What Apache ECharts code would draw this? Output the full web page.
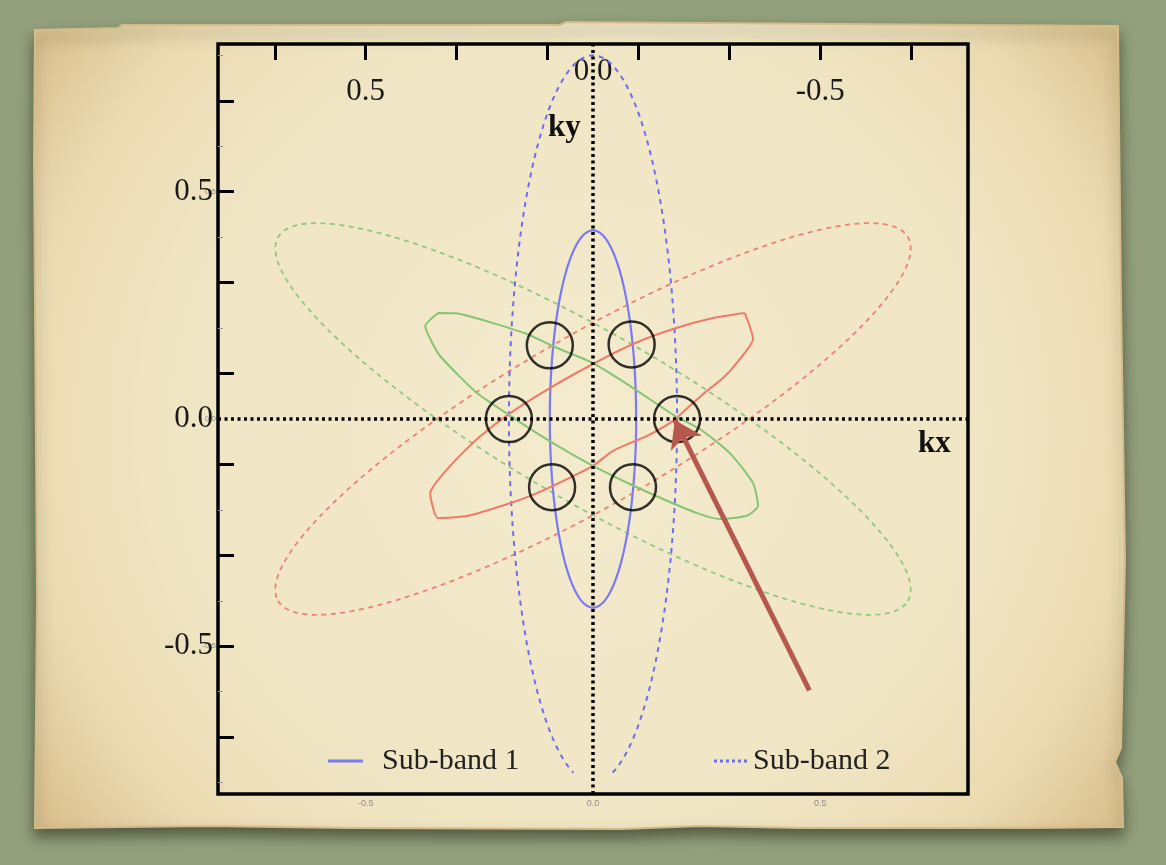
<!DOCTYPE html>
<html>
<head>
<meta charset="utf-8">
<title>Sub-band Fermi surfaces</title>
<script src="https://cdn.jsdelivr.net/npm/echarts@6/dist/echarts.min.js"></script>
<style>
  html, body { margin: 0; padding: 0; background: #93a07c; }
  #chart { width: 1166px; height: 865px; }
</style>
</head>
<body>
<div id="chart"></div>
<script>
// axis labels / ticks
var axisLabelsBig = [0.5, 0, -0.5];
var axisLabelsSmall = [-0.5, 0, 0.5];
var majorTicks = [-0.7, -0.5, -0.3, -0.1, 0.1, 0.3, 0.5, 0.7];
var minorTicks = [-0.8, -0.6, -0.4, -0.2, 0.2, 0.4, 0.6, 0.8];

// ellipses: [cx, cy, half length along angle, half width, angle (deg), cut below y]
var subBand1 = [0, 0, 0.415, 0.095, 90, -9];
var subBand2 = [0, 0, 0.80, 0.185, 90, -0.78];
var redDashed = [0, 0, 0.80, 0.185, 30, -9];
var greenDashed = [0, 0, 0.80, 0.185, 150, -9];

// hand drawn loops
var redSolid = [
  [0.334, 0.233], [0.352, 0.176], [0.316, 0.123], [0.286, 0.090], [0.251, 0.062],
  [0.220, 0.035], [0.176, -0.004], [0.119, -0.037], [0.044, -0.070], [0.0, -0.103],
  [-0.088, -0.147], [-0.138, -0.169], [-0.182, -0.185], [-0.275, -0.213], [-0.341, -0.218],
  [-0.358, -0.163], [-0.314, -0.103], [-0.255, -0.044], [-0.182, 0.013], [-0.095, 0.068],
  [0.0, 0.121], [0.088, 0.165], [0.176, 0.198], [0.264, 0.222], [0.334, 0.233]
];
var greenSolid = [
  [-0.341, 0.233], [-0.292, 0.231], [-0.220, 0.211], [-0.145, 0.187], [-0.088, 0.160],
  [0.0, 0.123], [0.081, 0.073], [0.180, 0.007], [0.235, -0.022], [0.301, -0.075],
  [0.352, -0.141], [0.363, -0.191], [0.338, -0.213], [0.279, -0.220], [0.229, -0.207],
  [0.154, -0.176], [0.081, -0.143], [0.0, -0.103], [-0.088, -0.053], [-0.182, 0.007],
  [-0.255, 0.057], [-0.336, 0.138], [-0.358, 0.176], [-0.369, 0.204], [-0.341, 0.233]
];

// Dirac point circles
var circles = [
  [-0.185, 0], [0.185, 0],
  [-0.095, 0.162], [0.085, 0.164],
  [-0.09, -0.150], [0.088, -0.150]
];

// arrow: tail -> head
var arrow = [[0.476, -0.597], [0.180, -0.002]];

var serif = "'Liberation Serif', 'DejaVu Serif', serif";

function ellipseRenderer(width, dash) {
  return function (params, api) {
    var cx = api.value(0), cy = api.value(1), a = api.value(2), b = api.value(3);
    var ang = api.value(4) * Math.PI / 180, cut = api.value(5);
    var runs = [], pts = [];
    for (var i = 0; i <= 240; i++) {
      var t = Math.PI + i / 240 * 2 * Math.PI;
      var x = cx + a * Math.cos(t) * Math.cos(ang) - b * Math.sin(t) * Math.sin(ang);
      var y = cy + a * Math.cos(t) * Math.sin(ang) + b * Math.sin(t) * Math.cos(ang);
      if (y < cut) {
        if (pts.length) { runs.push(pts); pts = []; }
        continue;
      }
      pts.push(api.coord([x, y]));
    }
    if (pts.length) runs.push(pts);
    return {
      type: 'group',
      children: runs.map(function (r) {
        return {
          type: 'polyline',
          shape: { points: r },
          style: { stroke: api.visual('color'), fill: null, lineWidth: width, lineDash: dash }
        };
      })
    };
  };
}

var chart = echarts.init(document.getElementById('chart'));

var option = {
  animation: false,
  backgroundColor: '#93a07c',
  graphic: [
    {
      type: 'polygon',
      z: -10,
      shape: {
        points: [
          [35, 30], [118, 28], [122, 25], [560, 25], [566, 22], [1118, 26],
          [1121, 300], [1125, 560], [1121, 748], [1115, 762], [1122, 778], [1123, 827],
          [1030, 828], [800, 828], [700, 826], [622, 829], [350, 828], [210, 826], [35, 828],
          [37, 600], [34, 160]
        ]
      },
      style: {
        fill: {
          type: 'radial', x: 0.5, y: 0.5, r: 0.86,
          colorStops: [
            { offset: 0, color: '#f4ebce' },
            { offset: 0.6, color: '#f0e5c3' },
            { offset: 0.8, color: '#eadab1' },
            { offset: 1, color: '#d5b984' }
          ]
        },
        stroke: '#d6bb86',
        lineWidth: 2,
        shadowBlur: 14,
        shadowOffsetY: 8,
        shadowColor: 'rgba(30, 35, 20, 0.55)'
      }
    },
    {
      type: 'text', left: 548, top: 112, z: 10,
      style: { text: 'ky', font: "bold 31px 'Liberation Serif', serif", fill: '#111' }
    },
    {
      type: 'text', left: 918, top: 428, z: 10,
      style: { text: 'kx', font: "bold 31px 'Liberation Serif', serif", fill: '#111' }
    }
  ],
  grid: {
    left: 218, top: 44, width: 750, height: 750,
    show: true, borderColor: '#000', borderWidth: 3.5,
    backgroundColor: 'transparent', containLabel: false
  },
  legend: [
    {
      left: 323, top: 741, itemWidth: 35, itemHeight: 3, itemGap: 10,
      data: [{ name: 'Sub-band 1', icon: 'rect' }],
      textStyle: { fontFamily: serif, fontSize: 30, color: '#222', padding: [0, 0, 0, 14] }
    },
    {
      left: 709, top: 741, itemWidth: 35, itemHeight: 3, itemGap: 10,
      data: [{
        name: 'Sub-band 2',
        icon: 'path://M0,0h3v3h-3zM6,0h3v3h-3zM12,0h3v3h-3zM18,0h3v3h-3zM24,0h3v3h-3zM30,0h3v3h-3z'
      }],
      textStyle: { fontFamily: serif, fontSize: 30, color: '#222' }
    }
  ],
  xAxis: [
    {
      type: 'value', position: 'bottom', min: -0.825, max: 0.825,
      axisLine: { show: false, onZero: false }, splitLine: { show: false },
      axisTick: { show: false },
      axisLabel: {
        customValues: axisLabelsSmall, margin: 5,
        fontSize: 9, color: '#8c8c8c', fontFamily: 'Liberation Sans',
        formatter: function (v) { return v.toFixed(1); }
      }
    },
    {
      type: 'value', position: 'top', inverse: true, min: -0.825, max: 0.825,
      axisLine: { show: false, onZero: false }, splitLine: { show: false },
      axisTick: {
        show: true, inside: true, length: 16, customValues: majorTicks,
        lineStyle: { color: '#000', width: 3 }
      },
      axisLabel: {
        inside: true, margin: 12, customValues: axisLabelsBig,
        formatter: function (v) {
          return v === 0 ? '{z|0.0}' : '{n|' + v.toFixed(1) + '}';
        },
        rich: {
          z: { fontFamily: serif, fontSize: 31, color: '#1a1a1a' },
          n: { fontFamily: serif, fontSize: 31, color: '#1a1a1a', padding: [20, 0, 0, 0] }
        }
      }
    }
  ],
  yAxis: [
    {
      type: 'value', position: 'left', min: -0.825, max: 0.825,
      axisLine: { show: false, onZero: false }, splitLine: { show: false },
      axisTick: {
        show: true, inside: true, length: 5, customValues: minorTicks,
        lineStyle: { color: '#9a9a9a', width: 1 }
      },
      axisLabel: {
        customValues: axisLabelsSmall, margin: 2,
        fontSize: 8, color: '#8c8c8c', fontFamily: 'Liberation Sans',
        formatter: function (v) { return v.toFixed(1); }
      }
    },
    {
      type: 'value', position: 'left', min: -0.825, max: 0.825,
      axisLine: { show: false, onZero: false }, splitLine: { show: false },
      axisTick: {
        show: true, inside: true, length: 16, customValues: majorTicks,
        lineStyle: { color: '#000', width: 3 }
      },
      axisLabel: {
        customValues: axisLabelsBig, margin: 5,
        fontFamily: serif, fontSize: 31, color: '#1a1a1a',
        formatter: function (v) { return v.toFixed(1); }
      }
    }
  ],
  series: [
    {
      name: 'axes', type: 'line', data: [], z: 3,
      markLine: {
        silent: true, symbol: 'none', label: { show: false },
        lineStyle: { color: '#000', width: 3.5, type: [3, 3.5] },
        data: [{ xAxis: 0 }, { yAxis: 0 }]
      }
    },
    {
      name: 'red dashed', type: 'custom', z: 2,
      itemStyle: { color: '#f0806f' },
      renderItem: ellipseRenderer(1.8, [5, 4.5]),
      encode: { x: 0, y: 1 },
      data: [redDashed]
    },
    {
      name: 'green dashed', type: 'custom', z: 2,
      itemStyle: { color: '#8fc97d' },
      renderItem: ellipseRenderer(1.8, [5, 4.5]),
      encode: { x: 0, y: 1 },
      data: [greenDashed]
    },
    {
      name: 'Sub-band 2', type: 'custom', z: 2,
      itemStyle: { color: '#6d6df2' },
      renderItem: ellipseRenderer(2, [5, 5]),
      encode: { x: 0, y: 1 },
      data: [subBand2]
    },
    {
      name: 'red solid', type: 'line', z: 2,
      showSymbol: false, smooth: 0.2,
      lineStyle: { color: '#f07a6a', width: 2 },
      itemStyle: { color: '#f07a6a' },
      data: redSolid
    },
    {
      name: 'green solid', type: 'line', z: 2,
      showSymbol: false, smooth: 0.2,
      lineStyle: { color: '#86c473', width: 2 },
      itemStyle: { color: '#86c473' },
      data: greenSolid
    },
    {
      name: 'Sub-band 1', type: 'custom', z: 2,
      itemStyle: { color: '#7a7af2' },
      renderItem: ellipseRenderer(2.2, null),
      encode: { x: 0, y: 1 },
      data: [subBand1]
    },
    {
      name: 'circles', type: 'scatter', z: 4,
      symbol: 'circle', symbolSize: 46,
      itemStyle: { color: 'rgba(0,0,0,0)', borderColor: '#000', borderWidth: 2.5 },
      data: circles
    },
    {
      name: 'arrow', type: 'lines', coordinateSystem: 'cartesian2d', z: 5,
      symbol: ['none', 'arrow'], symbolSize: [20, 26],
      lineStyle: { color: '#b7584e', width: 5, opacity: 1 },
      data: [{ coords: arrow }]
    }
  ]
};

chart.setOption(option);
</script>
</body>
</html>
